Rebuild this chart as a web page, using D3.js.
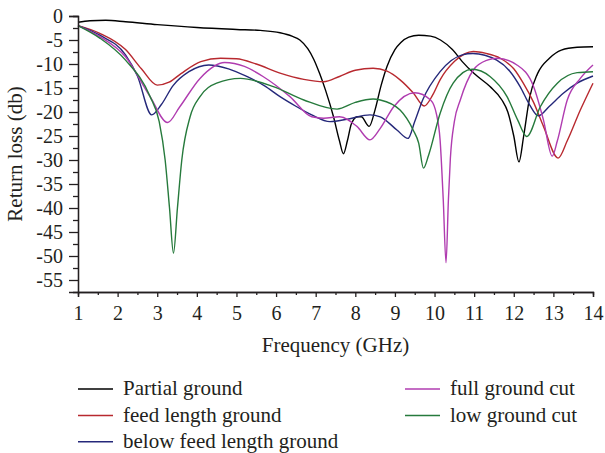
<!DOCTYPE html>
<html>
<head>
<meta charset="utf-8">
<script src="https://cdn.jsdelivr.net/npm/d3@7"></script>
<style>
	body { margin: 0; background: #fff; }
	svg text { font-family: "Liberation Serif", "DejaVu Serif", serif; fill: #231f20; }
</style>
</head>
<body>
<svg id="chart" width="605" height="453"></svg>
<script>
	"use strict";

	// Return loss curves, [frequency GHz, dB]
	var partialGround = [[1.0, -1.3], [1.3, -1.0], [1.7, -0.9], [2.2, -1.2], [3.0, -1.8], [4.0, -2.4], [5.0, -2.8], [5.6, -3.0],
		[6.1, -3.5], [6.4, -4.2], [6.6, -5.0], [6.8, -6.8], [6.95, -9], [7.1, -12], [7.25, -15.5], [7.45, -21], [7.6, -26],
		[7.7, -28.7], [7.8, -26], [7.9, -22.5], [8.05, -21], [8.15, -21], [8.35, -23], [8.5, -19.5], [8.65, -14.5], [8.8, -10.5],
		[9.0, -7], [9.15, -5.5], [9.35, -4.4], [9.6, -4.0], [9.9, -4.2], [10.15, -5], [10.45, -7], [10.7, -9.5], [11.0, -12],
		[11.4, -14.7], [11.7, -17.5], [11.85, -20], [12.0, -25], [12.13, -30.4], [12.25, -25], [12.4, -17], [12.6, -12],
		[12.9, -8.8], [13.2, -7.1], [13.6, -6.5], [14.0, -6.4]];

	var feedLengthGround = [[1.0, -2.0], [1.55, -3.6], [2.2, -7], [2.6, -11], [3.0, -14.4], [3.3, -13.8], [3.6, -12], [4.1, -9.5],
		[4.6, -8.8], [5.0, -8.9], [5.5, -10], [6.1, -11.9], [6.7, -13.2], [7.2, -13.7], [7.6, -12.6], [8.0, -11.3], [8.45, -10.9],
		[8.8, -11.5], [9.13, -13.3], [9.46, -16], [9.74, -18.75], [9.95, -16.5], [10.14, -13.3], [10.5, -9.5], [10.98, -7.4],
		[11.3, -7.8], [11.66, -8.8], [12.0, -11], [12.24, -14], [12.5, -18], [12.75, -23], [13.12, -29.6], [13.35, -26],
		[13.68, -19.6], [14.0, -14]];

	var belowFeedLengthGround = [[1.0, -2.0], [1.55, -4], [2.2, -8.1], [2.5, -12.5], [2.86, -20.6], [3.1, -18.5], [3.4, -14.5],
		[3.8, -11.6], [4.3, -10.2], [4.8, -11], [5.26, -12.6], [5.7, -14.5], [6.1, -16.8], [6.5, -18.8], [6.9, -20.6], [7.36, -22],
		[7.8, -21.5], [8.37, -20.6], [8.63, -21], [9.05, -23.75], [9.33, -25.5], [9.5, -22], [9.7, -17.5], [10.14, -11.6],
		[10.7, -8.1], [10.97, -7.8], [11.57, -9.2], [11.9, -11.5], [12.16, -14.7], [12.4, -18.5], [12.62, -20.8], [12.9, -18.8],
		[13.25, -16.1], [13.6, -14], [14.0, -12.5]];

	var fullGroundCut = [[1.0, -2.0], [1.55, -4.3], [2.2, -8.5], [2.82, -16.8], [3.26, -22.2], [3.57, -18.9], [4.08, -13],
		[4.7, -9.7], [5.2, -10.5], [5.67, -12.6], [6.35, -16.8], [6.9, -21], [7.2, -21.3], [7.6, -21], [8.04, -23], [8.37, -25.8],
		[8.63, -23.4], [8.97, -18.9], [9.5, -16], [9.9, -17.5], [10.05, -20.5], [10.14, -25.8], [10.22, -38.3], [10.29, -51.4],
		[10.35, -38.3], [10.4, -29.6], [10.5, -22], [10.65, -17.5], [10.98, -11.25], [11.33, -9.2], [11.58, -8.8], [12.08, -10.2],
		[12.5, -14.7], [12.75, -21.7], [12.97, -29.2], [13.1, -26], [13.35, -17.5], [13.68, -13], [14.0, -10.2]];

	var lowGroundCut = [[1.0, -2.0], [1.55, -4.6], [2.2, -9.2], [2.82, -16.8], [3.05, -22], [3.2, -30], [3.31, -40], [3.41, -49.4],
		[3.51, -40], [3.62, -30], [3.83, -21], [4.08, -16.8], [4.5, -14], [5.1, -13], [5.93, -14.7], [6.7, -17.5], [7.54, -19.4],
		[8.0, -18], [8.45, -17.3], [8.63, -17.5], [9.13, -19.6], [9.46, -23.75], [9.6, -26.5], [9.72, -31.7], [9.85, -29],
		[10.14, -20.3], [10.47, -14], [10.95, -11.1], [11.4, -12.6], [11.83, -16.8], [12.1, -21.7], [12.33, -25.1], [12.67, -18.9],
		[13.1, -14], [13.6, -11.8], [14.0, -11.6]];

	var seriesNames = ["Partial ground", "feed length ground", "below feed length ground", "full ground cut", "low ground cut"];
	var seriesColors = ["#000000", "#b8292f", "#25287a", "#b03cb0", "#267a3c"];
	var seriesData = [partialGround, feedLengthGround, belowFeedLengthGround, fullGroundCut, lowGroundCut];

	var xTicks = d3.range(1, 15, 1);
	var yTicks = d3.range(0, -56, -5);

	var svg = d3.select("#chart");
	var margin = { top: 16, right: 12, bottom: 161, left: 78 },
		width = +svg.attr("width") - margin.left - margin.right,
		height = +svg.attr("height") - margin.top - margin.bottom;

	var g = svg.append("g")
		.attr("transform", "translate(" + margin.left + "," + margin.top + ")");

	var x = d3.scaleLinear().domain([1, 14]).range([0, width]);
	var y = d3.scaleLinear().domain([-57.5, 0]).range([height, 0]);

	var line = d3.line()
		.curve(d3.curveMonotoneX)
		.x(function(d) { return x(d[0]); })
		.y(function(d) { return y(d[1]); });

	// curves first, axes on top
	seriesData.forEach(function(data, i) {
		g.append("path")
			.datum(data)
			.attr("fill", "none")
			.attr("stroke", seriesColors[i])
			.attr("stroke-width", 1.4)
			.attr("stroke-linejoin", "round")
			.attr("d", line);
	});

	// minor ticks
	var xAxisMinor = d3.axisBottom(x).tickValues(d3.range(1.5, 14, 1)).tickSize(3).tickFormat("");
	var yAxisMinor = d3.axisLeft(y).tickValues(d3.range(-2.5, -57, -5)).tickSize(5).tickFormat("");

	g.append("g")
		.attr("transform", "translate(0," + height + ")")
		.call(xAxisMinor);
	g.append("g")
		.call(yAxisMinor);

	var xAxis = g.append("g")
		.attr("transform", "translate(0," + height + ")")
		.call(d3.axisBottom(x).tickValues(xTicks).tickSize(5).tickPadding(9).tickFormat(d3.format("d")));

	var yAxis = g.append("g")
		.call(d3.axisLeft(y).tickValues(yTicks).tickSize(9).tickPadding(6).tickFormat(function(d) {
			return d === 0 ? "0" : "-" + Math.abs(d);
		}));

	svg.selectAll(".domain, .tick line")
		.attr("stroke", "#231f20")
		.attr("stroke-width", 1.3);

	svg.selectAll(".tick text")
		.attr("font-size", 20)
		.attr("font-family", "Liberation Serif, serif")
		.attr("fill", "#231f20");

	yAxis.selectAll(".tick text").attr("dy", "0.33em");

	g.append("text")
		.attr("x", width / 2)
		.attr("y", height + 60)
		.attr("text-anchor", "middle")
		.attr("font-size", 21)
		.text("Frequency (GHz)");

	g.append("text")
		.attr("transform", "rotate(-90)")
		.attr("x", -height / 2)
		.attr("y", -56)
		.attr("text-anchor", "middle")
		.attr("font-size", 21)
		.text("Return loss (db)");

	// legend
	var legendPos = [[78, 389], [78, 415.5], [78, 441.7], [405, 389], [405, 415.5]];
	var legend = svg.append("g");
	seriesNames.forEach(function(name, i) {
		var p = legendPos[i];
		legend.append("line")
			.attr("x1", p[0]).attr("x2", p[0] + 35)
			.attr("y1", p[1]).attr("y2", p[1])
			.attr("stroke", seriesColors[i])
			.attr("stroke-width", 1.4);
		legend.append("text")
			.attr("x", p[0] + 45)
			.attr("y", p[1] + 6)
			.attr("font-size", 21)
			.text(name);
	});
</script>
</body>
</html>
